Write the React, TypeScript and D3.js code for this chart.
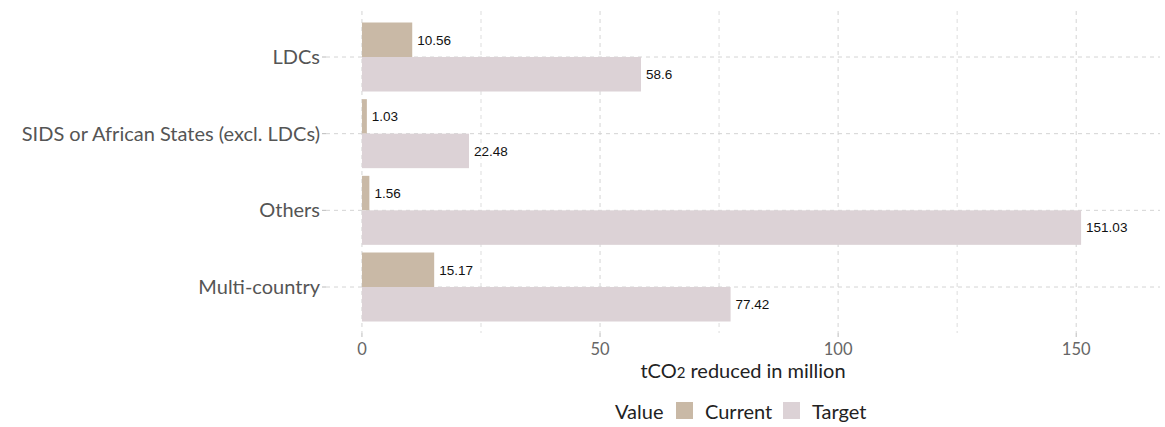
import React from "react";
import * as d3 from "d3";

const categories = ["LDCs", "SIDS or African States (excl. LDCs)", "Others", "Multi-country"];
const currentValues = [10.56, 1.03, 1.56, 15.17];
const targetValues = [58.6, 22.48, 151.03, 77.42];
const seriesNames = ["Current", "Target"];
const majorTicks = [0, 50, 100, 150];
const minorTicks = [25, 75, 125];

const W = 1165;
const H = 427;
const FONT = "Lato, 'Open Sans', sans-serif";
const colors = { Current: "#c9b9a6", Target: "#dcd2d6" };

export default function App() {
  const x = d3.scaleLinear().domain([-7.55, 167.6]).range([326, 1160]);
  const y = d3.scalePoint<string>().domain(categories).range([11, 333]).padding(0.6);
  const step = y.step();
  const bh = step * 0.45;
  const panelTop = 11;
  const panelBottom = 333;
  const panelLeft = 326;
  const panelRight = 1160;
  const grid = "#d4d4d4";

  return (
    <svg width={W} height={H} style={{ position: "absolute", left: 0, top: 0, background: "#fff" }}>
      {/* vertical grid */}
      {minorTicks.map((t) => (
        <line key={"mi" + t} x1={x(t)} x2={x(t)} y1={panelTop} y2={panelBottom} stroke={grid} strokeWidth={0.8} strokeDasharray="4,4" />
      ))}
      {majorTicks.map((t) => (
        <line key={"ma" + t} x1={x(t)} x2={x(t)} y1={panelTop} y2={panelBottom} stroke={grid} strokeWidth={1} strokeDasharray="4,4" />
      ))}
      {/* horizontal grid */}
      {categories.map((c) => (
        <line key={"h" + c} x1={panelLeft} x2={panelRight} y1={y(c)} y2={y(c)} stroke={grid} strokeWidth={1} strokeDasharray="4,4" />
      ))}
      {/* bars */}
      {categories.map((c, i) => {
        const cy = y(c) as number;
        return (
          <g key={"b" + c}>
            <rect x={x(0)} y={cy - bh} width={x(currentValues[i]) - x(0)} height={bh} fill={colors.Current} />
            <rect x={x(0)} y={cy} width={x(targetValues[i]) - x(0)} height={bh} fill={colors.Target} />
            <text x={x(currentValues[i]) + 5} y={cy - bh / 2} dy="0.36em" fontFamily="'Liberation Sans', Arial, sans-serif" fontSize={13.5} fill="#111">
              {String(currentValues[i])}
            </text>
            <text x={x(targetValues[i]) + 5} y={cy + bh / 2} dy="0.36em" fontFamily="'Liberation Sans', Arial, sans-serif" fontSize={13.5} fill="#111">
              {String(targetValues[i])}
            </text>
          </g>
        );
      })}
      {/* y axis ticks and labels */}
      {categories.map((c) => (
        <g key={"yl" + c}>
          <line x1={panelLeft - 4} x2={panelLeft} y1={y(c)} y2={y(c)} stroke="#bbb" strokeWidth={1} />
          <text x={panelLeft - 6} y={y(c)} dy="0.35em" textAnchor="end" fontFamily={FONT} fontSize={20} fill="#555">
            {c}
          </text>
        </g>
      ))}
      {/* x axis ticks and labels */}
      {majorTicks.map((t) => (
        <g key={"xt" + t}>
          <line x1={x(t)} x2={x(t)} y1={panelBottom} y2={panelBottom + 4} stroke="#bbb" strokeWidth={1} />
          <text x={x(t)} y={panelBottom + 22} textAnchor="middle" fontFamily={FONT} fontSize={16.5} fill="#666">
            {t}
          </text>
        </g>
      ))}
      <text x={(panelLeft + panelRight) / 2} y={378} textAnchor="middle" fontFamily={FONT} fontSize={20} fill="#222">
        tCO<tspan fontSize={15}>2</tspan> reduced in million
      </text>
      {/* legend */}
      <text x={615} y={419} fontFamily={FONT} fontSize={20} fill="#222">Value</text>
      {seriesNames.map((s, i) => {
        const lx = i === 0 ? 676 : 783;
        return (
          <g key={"lg" + s}>
            <rect x={lx} y={402} width={17} height={17} fill={colors[s as "Current" | "Target"]} />
            <text x={lx + 29} y={419} fontFamily={FONT} fontSize={20} fill="#222">{s}</text>
          </g>
        );
      })}
    </svg>
  );
}
